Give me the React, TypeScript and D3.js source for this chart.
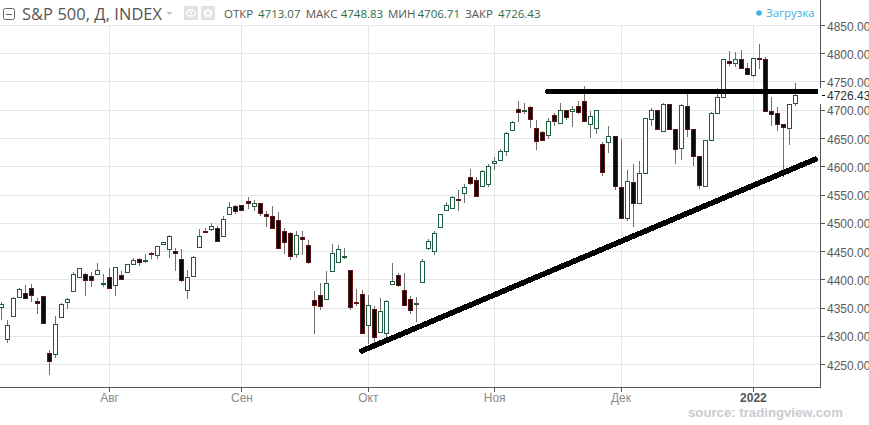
import React from 'react'
import * as d3 from 'd3'

const W = 869
const H = 425

// daily bars, left to right
const opens = [4351.6, 4295.7, 4336.7, 4368.8, 4376.5, 4385.4, 4362, 4371, 4269.6, 4268, 4334, 4360, 4379.5, 4404, 4410, 4406, 4410, 4393.7, 4405, 4390, 4408.6, 4414, 4427.6, 4436, 4434.5, 4446.5, 4443.6, 4463, 4454, 4451, 4437, 4381, 4407.4, 4458, 4487, 4490, 4492, 4477.5, 4516.7, 4529.8, 4531.6, 4538.7, 4531, 4535, 4515.5, 4512, 4506.6, 4486.4, 4483.4, 4446, 4476, 4462, 4364, 4373, 4366, 4415.7, 4431, 4440, 4417.5, 4360.5, 4374.7, 4320.7, 4348, 4308, 4305, 4392.6, 4408.6, 4382.5, 4366.5, 4357, 4396, 4457, 4451.5, 4492.5, 4523.4, 4526.4, 4543, 4553.8, 4582.3, 4577, 4566, 4569.8, 4607, 4612.6, 4628.7, 4664.3, 4701.8, 4699, 4705, 4668, 4660.8, 4657, 4691, 4676.8, 4700, 4699.4, 4707, 4716, 4675, 4668, 4641, 4643, 4653.6, 4564.5, 4509, 4573, 4536, 4589, 4684, 4700, 4664, 4710.7, 4666, 4633, 4707, 4666.7, 4619, 4566, 4647, 4695, 4723, 4788, 4784.4, 4790, 4775.6, 4763, 4793, 4791.5, 4697.8, 4695, 4675.5, 4668, 4713.07]
const highs = [4360.5, 4329, 4370, 4386, 4391.4, 4393, 4368, 4372, 4275.5, 4336, 4358.7, 4367.6, 4414, 4421, 4411.6, 4414.5, 4429, 4411, 4421, 4423, 4415.7, 4428, 4439, 4437.7, 4445, 4448.4, 4460, 4467.4, 4480, 4456.7, 4453.7, 4418, 4442.5, 4489, 4492, 4501, 4496, 4512, 4537.5, 4531.6, 4532.7, 4546.4, 4541, 4535, 4521, 4530, 4519.7, 4492, 4485, 4486, 4486, 4471, 4380, 4394, 4415.7, 4464, 4462, 4456.7, 4417.5, 4384, 4382, 4373, 4353, 4368, 4364, 4429, 4412, 4411.7, 4370.6, 4369, 4436, 4471.7, 4486.6, 4516, 4537.7, 4548.4, 4558, 4569.8, 4596.6, 4582, 4594.8, 4605.5, 4618, 4632, 4660.8, 4680.4, 4716.6, 4713, 4707, 4682, 4662.5, 4685.7, 4694.6, 4713, 4700, 4707, 4716, 4743.4, 4698, 4700, 4643, 4671.5, 4653.6, 4650, 4593.6, 4605.5, 4609.6, 4685.7, 4703.6, 4700, 4712.5, 4710.7, 4666, 4710.7, 4730, 4666.7, 4619, 4647.4, 4696.6, 4739, 4790, 4804, 4803, 4806, 4784.4, 4793, 4816.6, 4794, 4723.5, 4705.4, 4675.5, 4710.7, 4748.83]
const lows = [4329, 4288, 4336.7, 4368.8, 4367, 4361, 4339.7, 4322.5, 4231, 4261, 4334, 4348.6, 4379.5, 4404, 4372, 4386.6, 4410, 4386.6, 4385, 4372, 4401, 4411.6, 4427.6, 4424, 4430, 4436, 4436, 4463, 4437.7, 4416, 4396.7, 4366, 4406, 4458, 4483.4, 4486, 4468.6, 4477.5, 4515, 4516.7, 4522, 4525, 4521.5, 4513, 4493.5, 4491.8, 4456, 4445.4, 4434.7, 4438, 4443, 4427.6, 4304.6, 4347, 4366, 4415.7, 4431, 4436, 4345.6, 4354, 4305, 4286.8, 4288.6, 4308, 4299, 4392.6, 4387, 4355, 4338.5, 4326, 4396, 4453, 4444, 4492.5, 4523.4, 4524.6, 4521, 4535, 4568, 4548.4, 4566, 4565, 4593.6, 4612.6, 4619.7, 4662.5, 4679, 4693.5, 4668.5, 4629, 4646.5, 4649, 4673, 4676.8, 4683.4, 4671, 4693, 4680.4, 4651, 4658.4, 4583.5, 4624.5, 4559, 4509, 4503.8, 4493, 4536, 4589, 4673, 4666, 4664, 4666, 4605, 4612, 4652.7, 4601, 4560, 4566, 4645, 4695, 4723, 4778.6, 4777, 4774, 4763.3, 4758, 4773, 4698.4, 4671.4, 4662.6, 4581.8, 4638, 4706.71]
const closes = [4357, 4319.5, 4367.6, 4383.6, 4367, 4372.4, 4358, 4324, 4256.5, 4321, 4357, 4366, 4410, 4421, 4399, 4399, 4417.5, 4394, 4385, 4423, 4401, 4428, 4435, 4431, 4435.3, 4445.5, 4460, 4467.4, 4478, 4447, 4399, 4405, 4440.7, 4478, 4484.6, 4496, 4468.6, 4508.4, 4528, 4522, 4523.8, 4536.3, 4535, 4518.5, 4513, 4491.8, 4456, 4467.4, 4442, 4480, 4472.7, 4431.8, 4354.5, 4353, 4394, 4448, 4455, 4442.5, 4351.6, 4358, 4305, 4355, 4298, 4344.4, 4362, 4398, 4390.8, 4355, 4346, 4359, 4434, 4468, 4482.4, 4516, 4532, 4546.6, 4540.7, 4564.5, 4571.6, 4548.4, 4593, 4602, 4610.8, 4628.7, 4659, 4678.6, 4696.4, 4700, 4684, 4644.7, 4646.5, 4680.4, 4680.4, 4700, 4687.5, 4701.8, 4696.4, 4680.4, 4689.3, 4700, 4591, 4653.6, 4566, 4509, 4575, 4536, 4589, 4685.7, 4700, 4666, 4710.7, 4666, 4632, 4709.5, 4666.7, 4619, 4568.4, 4647.4, 4695, 4723, 4790, 4784.4, 4790, 4775, 4763.3, 4793, 4791, 4698.4, 4694, 4675, 4669.7, 4710.7, 4726.43]

const priceTicks = [4850, 4800, 4750, 4700, 4650, 4600, 4550, 4500, 4450, 4400, 4350, 4300, 4250]
const monthIdx = [18, 40, 61, 82, 103, 125]
const monthLabels = ['Авг', 'Сен', 'Окт', 'Ноя', 'Дек', '2022']

const lastPrice = 4726.43
const legend = [
  ['ОТКР', '4713.07', 224, 258],
  ['МАКС', '4748.83', 305.7, 340.7],
  ['МИН', '4706.71', 388, 417.5],
  ['ЗАКР', '4726.43', 465, 498],
]

// hand drawn lines: [bar index, price]
const trendLine: [number, number][] = [[59.9, 4274], [135.3, 4613.4]]
const flatLine: [number, number][] = [[90.75, 4733.2], [135.4, 4733.2]]

const upColor = '#1f5b3f'
const downColor = '#5e1616'
const wickColor = '#707070'
const gridColor = '#e6e6e6'
const axisColor = '#555555'
const textColor = '#5a5a5a'

const App = () => {
  const x = d3.scaleLinear().domain([0, 132]).range([1.33, 795.5])
  const y = d3.scaleLinear().domain([4850, 4250]).range([25.5, 364.5])
  const px = (v: number) => Math.floor(v) + 0.5
  const line = d3.line<[number, number]>().x((d) => x(d[0])).y((d) => y(d[1]))
  const axisX = 820.5
  const axisY = 387.5
  const sans = '"Liberation Sans", Arial, sans-serif'

  return (
    <svg width={W} height={H} style={{ position: 'absolute', left: 0, top: 0, background: '#fff' }}>
      {/* grid */}
      <g stroke={gridColor} strokeWidth={1} shapeRendering='crispEdges'>
        {priceTicks.map((p) => (
          <line key={p} x1={0} x2={axisX} y1={px(y(p))} y2={px(y(p))} />
        ))}
        {monthIdx.map((i) => (
          <line key={i} x1={px(x(i))} x2={px(x(i))} y1={25} y2={axisY} />
        ))}
      </g>

      {/* candles */}
      <g shapeRendering='crispEdges'>
        {opens.map((o, i) => {
          const c = closes[i]
          const up = c >= o
          const cx = px(x(i))
          const top = Math.round(y(Math.max(o, c))) + 0.5
          const bot = Math.round(y(Math.min(o, c))) + 0.5
          return (
            <g key={i}>
              <line x1={cx} x2={cx} y1={y(highs[i])} y2={y(lows[i])} stroke={wickColor} />
              <rect
                x={cx - 2}
                y={top}
                width={4}
                height={Math.max(bot - top, 1)}
                fill={up ? '#fff' : '#0a0a0a'}
                stroke={up ? upColor : downColor}
              />
            </g>
          )
        })}
      </g>

      {/* drawings */}
      <g fill='none' stroke='#000' strokeLinecap='round' shapeRendering='crispEdges'>
        <path d={line(trendLine) || ''} strokeWidth={5.5} />
        <path d={line(flatLine) || ''} strokeWidth={5} />
      </g>

      {/* price axis */}
      <line x1={axisX} x2={axisX} y1={0} y2={axisY} stroke={axisColor} shapeRendering='crispEdges' />
      <g fontFamily={sans} fontSize={12} fill={textColor}>
        {priceTicks.map((p) => (
          <g key={p}>
            <line x1={axisX} x2={axisX + 4} y1={px(y(p))} y2={px(y(p))} stroke={axisColor} shapeRendering='crispEdges' />
            <text x={827} y={y(p) + 5}>{d3.format('.2f')(p)}</text>
          </g>
        ))}
      </g>
      <rect x={axisX - 0.5} y={88} width={48} height={16} fill='#fff' />
      <line x1={axisX + 1} x2={axisX + 4} y1={95.5} y2={95.5} stroke='#000' shapeRendering='crispEdges' />
      <text x={827} y={y(lastPrice) + 5} fontFamily={sans} fontSize={12} fill='#333'>
        {d3.format('.2f')(lastPrice)}
      </text>

      {/* time axis */}
      <line x1={0} x2={axisX} y1={axisY} y2={axisY} stroke={axisColor} shapeRendering='crispEdges' />
      <g fontFamily={sans} fontSize={12} textAnchor='middle'>
        {monthIdx.map((i, k) => (
          <g key={i}>
            <line x1={px(x(i))} x2={px(x(i))} y1={axisY} y2={axisY + 4} stroke={axisColor} shapeRendering='crispEdges' />
            <text
              x={x(i)}
              y={402}
              fontWeight={monthLabels[k] === '2022' ? 'bold' : 'normal'}
              fill={monthLabels[k] === '2022' ? '#555' : '#8a8a8a'}
            >
              {monthLabels[k]}
            </text>
          </g>
        ))}
      </g>

      {/* header */}
      <rect x={3.5} y={8.5} width={11} height={11} rx={2} fill='#fff' stroke='#666' />
      <line x1={6} x2={12} y1={14.5} y2={14.5} stroke='#666' shapeRendering='crispEdges' />
      <text x={22} y={19.5} fontFamily='"Open Sans", sans-serif' fontSize={16.4} textLength={140} fill='#555'>S&amp;P 500, Д, INDEX</text>
      <path d='M166,12 h7 l-3.5,3 z' fill='#c4c4c4' />
      <rect x={184} y={6} width={14} height={14} fill='#e2e2e2' />
      <ellipse cx={191} cy={13} rx={4.5} ry={3} fill='none' stroke='#fff' strokeWidth={1.4} />
      <circle cx={191} cy={13} r={1.2} fill='#fff' />
      <rect x={201} y={6} width={14} height={14} fill='#e2e2e2' />
      <circle cx={208} cy={13} r={3} fill='none' stroke='#fff' strokeWidth={2.2} />
      <g fontFamily='"Open Sans", sans-serif' fontSize={11.5}>
        {legend.map(([name, val, nx, vx]) => (
          <g key={name as string}>
            <text x={nx as number} y={18} fill='#555'>{name}</text>
            <text x={vx as number} y={18} fill='#2f6b4c'>{val}</text>
          </g>
        ))}
      </g>
      <circle cx={759} cy={13} r={2.8} fill='#3fb0e8' />
      <text x={766} y={17} fontFamily='"Open Sans", sans-serif' fontSize={11.5} fill='#3fb0e8'>Загрузка</text>

      <text x={688} y={417} fontFamily={sans} fontSize={13.2} fontWeight='bold' fill='#c8ccd0'>source: tradingview.com</text>
    </svg>
  )
}

export default App
